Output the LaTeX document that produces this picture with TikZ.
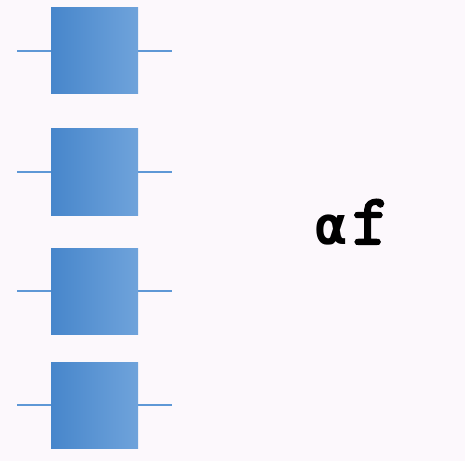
\documentclass[tikz,border=0pt]{standalone}
\usepackage{fontspec}
\newfontfamily\alphafont{DejaVu Sans Mono}
\newfontfamily\ffont{Latin Modern Mono}[FakeBold=3]
\definecolor{bg}{HTML}{FCF8FC}
\definecolor{boxL}{HTML}{4786CB}
\definecolor{boxR}{HTML}{6FA3DB}
\definecolor{wire}{HTML}{5E98D6}
\begin{document}
\begin{tikzpicture}[x=1pt,y=1pt,
  blk/.style={minimum width=87pt,minimum height=86pt,inner sep=0pt,left color=boxL,right color=boxR,draw=none},
  wireline/.style={draw=wire,line width=1.4pt}]
\fill[bg] (0,0) rectangle (465,461);
\useasboundingbox (0,0) rectangle (465,461);
\foreach \i/\y in {1/410,2/289,3/170,4/56}{
  \coordinate (l\i) at (17,\y);
  \coordinate (r\i) at (172,\y);
  \draw[wireline] (l\i) -- (r\i);
  \node[blk] (b\i) at (94.5,\y) {};
}
\node[font=\alphafont\bfseries\fontsize{53}{55}\selectfont,inner sep=0pt,anchor=base west] (ta) at (315,217) {α};
\node[font=\ffont\fontsize{72}{74}\selectfont,inner sep=0pt,anchor=base west] (tf) at (352,217) {f};
\end{tikzpicture}
\end{document}
